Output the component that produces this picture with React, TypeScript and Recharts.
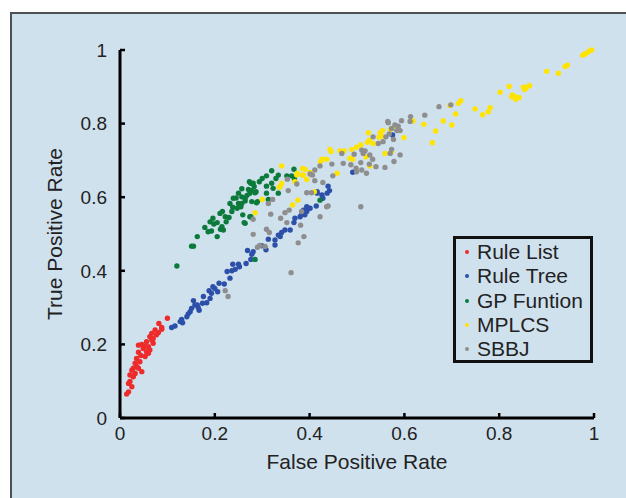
import { Legend, Scatter, ScatterChart, XAxis, YAxis } from "recharts";

type Pt = [number, number]; // [false positive rate, true positive rate]

const ruleList: Pt[] = [
  [0.1, 0.271], [0.088, 0.246], [0.082, 0.257], [0.074, 0.239], [0.077, 0.226],
  [0.067, 0.212], [0.06, 0.194], [0.046, 0.2], [0.056, 0.18], [0.039, 0.179],
  [0.053, 0.167], [0.042, 0.153], [0.032, 0.149], [0.039, 0.135], [0.025, 0.13],
  [0.046, 0.126], [0.028, 0.112], [0.021, 0.099], [0.025, 0.085], [0.018, 0.071],
  [0.014, 0.065], [0.063, 0.221], [0.07, 0.203], [0.06, 0.176], [0.035, 0.162],
  [0.032, 0.121], [0.021, 0.117], [0.049, 0.189], [0.056, 0.207], [0.067, 0.23],
  [0.081, 0.232], [0.07, 0.216], [0.063, 0.185], [0.028, 0.135], [0.039, 0.198],
  [0.018, 0.094], [0.088, 0.241], [0.053, 0.195], [0.044, 0.17], [0.035, 0.14],
];

const ruleTree: Pt[] = [
  [0.109, 0.246], [0.116, 0.25], [0.127, 0.262], [0.13, 0.268], [0.132, 0.259],
  [0.141, 0.275], [0.144, 0.283], [0.148, 0.289], [0.151, 0.298], [0.155, 0.319],
  [0.158, 0.307], [0.163, 0.307], [0.167, 0.293], [0.174, 0.312], [0.176, 0.33],
  [0.183, 0.313], [0.188, 0.346], [0.19, 0.325], [0.193, 0.339], [0.196, 0.357],
  [0.206, 0.343], [0.209, 0.366], [0.22, 0.364], [0.226, 0.398], [0.232, 0.38],
  [0.236, 0.4], [0.238, 0.418], [0.243, 0.404], [0.25, 0.418], [0.252, 0.411],
  [0.266, 0.42], [0.269, 0.455], [0.276, 0.431], [0.281, 0.452], [0.299, 0.468],
  [0.308, 0.457], [0.313, 0.486], [0.327, 0.484], [0.327, 0.47], [0.334, 0.497],
  [0.338, 0.493], [0.341, 0.504], [0.348, 0.511], [0.359, 0.511], [0.367, 0.531],
  [0.369, 0.543], [0.38, 0.547], [0.383, 0.552], [0.39, 0.552], [0.387, 0.565],
  [0.394, 0.561], [0.401, 0.57], [0.394, 0.574], [0.414, 0.576], [0.416, 0.611],
  [0.416, 0.615], [0.426, 0.606], [0.428, 0.597], [0.437, 0.611], [0.442, 0.618],
  [0.439, 0.63], [0.491, 0.668], [0.575, 0.769], [0.165, 0.3], [0.2, 0.352],
  [0.278, 0.445],
];

const gpFunction: Pt[] = [
  [0.12, 0.413], [0.151, 0.467], [0.155, 0.467], [0.163, 0.493], [0.179, 0.518],
  [0.186, 0.506], [0.193, 0.508], [0.19, 0.533], [0.196, 0.543], [0.198, 0.527],
  [0.205, 0.531], [0.205, 0.493], [0.212, 0.513], [0.218, 0.511], [0.211, 0.556],
  [0.216, 0.561], [0.222, 0.547], [0.224, 0.533], [0.232, 0.583], [0.238, 0.573],
  [0.236, 0.561], [0.245, 0.598], [0.25, 0.583], [0.255, 0.574], [0.247, 0.57],
  [0.239, 0.597], [0.257, 0.601], [0.264, 0.597], [0.259, 0.552], [0.264, 0.529],
  [0.274, 0.611], [0.271, 0.621], [0.276, 0.638], [0.273, 0.642], [0.283, 0.629],
  [0.287, 0.615], [0.29, 0.588], [0.278, 0.588], [0.274, 0.547], [0.257, 0.623],
  [0.25, 0.611], [0.32, 0.672], [0.309, 0.658], [0.3, 0.651], [0.294, 0.642],
  [0.281, 0.638], [0.278, 0.618], [0.285, 0.612], [0.309, 0.63], [0.32, 0.638],
  [0.329, 0.651], [0.334, 0.66], [0.323, 0.624], [0.334, 0.611], [0.309, 0.611],
  [0.313, 0.594], [0.288, 0.585], [0.264, 0.59], [0.257, 0.583], [0.262, 0.531],
  [0.276, 0.547], [0.352, 0.658], [0.362, 0.658], [0.368, 0.651], [0.367, 0.676],
  [0.422, 0.592], [0.285, 0.431], [0.23, 0.545], [0.215, 0.52], [0.268, 0.605],
];

const mplcs: Pt[] = [
  [0.995, 1.0], [0.99, 0.997], [0.986, 0.993], [0.981, 0.989], [0.976, 0.986],
  [0.944, 0.959], [0.939, 0.955], [0.925, 0.937], [0.9, 0.942], [0.864, 0.903],
  [0.857, 0.899], [0.851, 0.899], [0.854, 0.893], [0.821, 0.901], [0.828, 0.878],
  [0.833, 0.873], [0.826, 0.873], [0.835, 0.866], [0.842, 0.871], [0.802, 0.885],
  [0.781, 0.843], [0.777, 0.832], [0.765, 0.824], [0.749, 0.84], [0.719, 0.862],
  [0.714, 0.855], [0.696, 0.849], [0.708, 0.826], [0.7, 0.796], [0.682, 0.807],
  [0.666, 0.78], [0.659, 0.748], [0.641, 0.798], [0.618, 0.807], [0.599, 0.762],
  [0.58, 0.792], [0.57, 0.784], [0.549, 0.775], [0.554, 0.781], [0.552, 0.766],
  [0.524, 0.775], [0.547, 0.763], [0.526, 0.755], [0.522, 0.749], [0.534, 0.746],
  [0.508, 0.742], [0.499, 0.736], [0.489, 0.73], [0.473, 0.726], [0.464, 0.726],
  [0.443, 0.73], [0.445, 0.724], [0.426, 0.703], [0.423, 0.697], [0.436, 0.703],
  [0.485, 0.706], [0.491, 0.703], [0.519, 0.71], [0.559, 0.719], [0.573, 0.724],
  [0.527, 0.685], [0.458, 0.665], [0.385, 0.678], [0.39, 0.676], [0.374, 0.665],
  [0.394, 0.648], [0.385, 0.66], [0.369, 0.642], [0.341, 0.685], [0.338, 0.629],
  [0.364, 0.579], [0.375, 0.592], [0.41, 0.615], [0.401, 0.667], [0.387, 0.66],
  [0.373, 0.66], [0.341, 0.638], [0.336, 0.627], [0.3, 0.594], [0.285, 0.558],
];

const sbbj: Pt[] = [
  [0.698, 0.851], [0.673, 0.846], [0.643, 0.823], [0.613, 0.819], [0.612, 0.806],
  [0.594, 0.808], [0.587, 0.793], [0.58, 0.796], [0.584, 0.781], [0.591, 0.781],
  [0.573, 0.787], [0.568, 0.772], [0.561, 0.764], [0.566, 0.802], [0.565, 0.806],
  [0.577, 0.757], [0.545, 0.746], [0.555, 0.751], [0.534, 0.764], [0.573, 0.73],
  [0.57, 0.719], [0.591, 0.715], [0.578, 0.697], [0.517, 0.726], [0.513, 0.719],
  [0.527, 0.715], [0.533, 0.703], [0.526, 0.69], [0.54, 0.683], [0.559, 0.681],
  [0.52, 0.665], [0.508, 0.694], [0.498, 0.679], [0.487, 0.688], [0.51, 0.674],
  [0.499, 0.669], [0.471, 0.692], [0.468, 0.719], [0.494, 0.717], [0.51, 0.728],
  [0.447, 0.69], [0.449, 0.658], [0.508, 0.574], [0.422, 0.685], [0.411, 0.674],
  [0.406, 0.66], [0.428, 0.64], [0.411, 0.645], [0.373, 0.636], [0.353, 0.649],
  [0.355, 0.618], [0.394, 0.612], [0.404, 0.612], [0.436, 0.574], [0.439, 0.576],
  [0.322, 0.594], [0.313, 0.583], [0.281, 0.54], [0.318, 0.554], [0.348, 0.558],
  [0.357, 0.565], [0.339, 0.543], [0.352, 0.531], [0.381, 0.524], [0.383, 0.561],
  [0.422, 0.547], [0.309, 0.513], [0.315, 0.504], [0.281, 0.499], [0.29, 0.464],
  [0.295, 0.469], [0.306, 0.466], [0.388, 0.493], [0.376, 0.476], [0.361, 0.395],
  [0.222, 0.346], [0.228, 0.33], [0.401, 0.663],
];

const axisTicks = [0, 0.2, 0.4, 0.6, 0.8, 1];
const seriesNames = ["Rule List", "Rule Tree", "GP Funtion", "MPLCS", "SBBJ"];
const seriesColors = ["#ee2b2b", "#2c50a9", "#0b7a3b", "#ffe400", "#8e8e8e"];
const seriesPoints = [ruleList, ruleTree, gpFunction, mplcs, sbbj];

const FONT = "'Liberation Sans', Arial, Helvetica, sans-serif";
const INK = "#222";

const toRows = (pts: Pt[]) => pts.map(([x, y]) => ({ x, y }));

function LegendBox() {
  return (
    <div
      style={{
        width: 140,
        height: 127,
        boxSizing: "border-box",
        border: "3px solid #111",
        paddingTop: 1,
        fontFamily: FONT,
        fontSize: 21,
        color: INK,
      }}
    >
      {seriesNames.map((name, i) => (
        <div key={name} style={{ position: "relative", height: 24.3, lineHeight: "24.3px", paddingLeft: 21 }}>
          <span
            style={{
              position: "absolute",
              left: 9,
              top: 10,
              width: 4,
              height: 4,
              borderRadius: 2,
              background: seriesColors[i],
            }}
          />
          {name}
        </div>
      ))}
    </div>
  );
}

export default function App() {
  return (
    <div
      style={{
        position: "absolute",
        left: 0,
        top: 0,
        width: 626,
        height: 498,
        overflow: "hidden",
        background: "#fff",
        fontFamily: FONT,
      }}
    >
      <div
        style={{
          position: "absolute",
          left: 10,
          top: 12,
          width: 640,
          height: 520,
          background: "#d0e1ee",
          border: "2px solid #505050",
        }}
      />
      <div style={{ position: "absolute", left: 0, top: 0 }}>
        <ScatterChart width={626} height={498} margin={{ top: 50, right: 32, bottom: 50, left: 60 }}>
          <XAxis
            type="number"
            dataKey="x"
            domain={[0, 1]}
            ticks={axisTicks}
            interval={0}
            height={30}
            axisLine={{ stroke: "#000", strokeWidth: 3 }}
            tickLine={{ stroke: "#000", strokeWidth: 2.5 }}
            tickSize={-5}
            tickMargin={14}
            tick={{ fill: INK, fontSize: 19, fontFamily: FONT }}
            label={{ value: "False Positive Rate", position: "bottom", offset: 6, fill: INK, fontSize: 21, fontFamily: FONT }}
          />
          <YAxis
            type="number"
            dataKey="y"
            domain={[0, 1]}
            ticks={axisTicks}
            interval={0}
            width={60}
            axisLine={{ stroke: "#000", strokeWidth: 3 }}
            tickLine={{ stroke: "#000", strokeWidth: 2.5 }}
            tickSize={-5}
            tickMargin={18}
            tick={{ fill: INK, fontSize: 19, fontFamily: FONT }}
            label={{ value: "True Positive Rate", angle: -90, position: "center", dx: -35, fill: INK, fontSize: 21, fontFamily: FONT }}
          />
          <Legend
            layout="vertical"
            align="center"
            verticalAlign="middle"
            wrapperStyle={{ left: 453, top: 236, width: 140, height: 127 }}
            content={() => <LegendBox />}
          />
          {seriesPoints.map((pts, i) => (
            <Scatter
              key={seriesNames[i]}
              name={seriesNames[i]}
              data={toRows(pts)}
              fill={seriesColors[i]}
              isAnimationActive={false}
              shape={(p: any) => <circle cx={p.cx} cy={p.cy} r={2.7} fill={seriesColors[i]} />}
            />
          ))}
        </ScatterChart>
      </div>
    </div>
  );
}
